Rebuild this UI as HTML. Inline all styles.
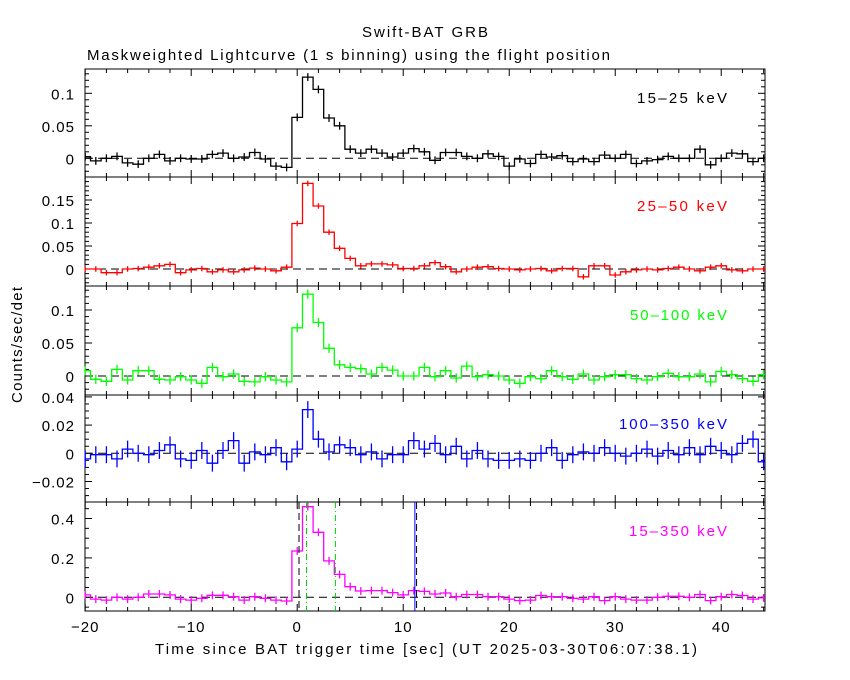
<!DOCTYPE html>
<html><head><meta charset="utf-8">
<style>
body{margin:0;background:#fff;}
svg{display:block;font-family:"Liberation Sans",sans-serif;}
text{font-size:15px;}
</style></head>
<body>
<svg id="chart" width="850" height="680" viewBox="0 0 850 680">
<text x="425" y="37" text-anchor="middle" textLength="126" lengthAdjust="spacing">Swift-BAT GRB</text>
<text x="87" y="60" textLength="523" lengthAdjust="spacing">Maskweighted Lightcurve (1 s binning) using the flight position</text>
<text transform="translate(22,345) rotate(-90)" text-anchor="middle" textLength="116" lengthAdjust="spacing">Counts/sec/det</text>
<text x="426" y="654" text-anchor="middle" textLength="542" lengthAdjust="spacing">Time since BAT trigger time [sec] (UT 2025-03-30T06:07:38.1)</text>
</svg>
<script>
const times = [];
for (let t = -20; t <= 44; t++) times.push(t);
const band1 = [0.0025,-0.004,0,0.003,-0.007,-0.009,0,0.006,-0.004,0,-0.001,-0.001,0.006,0.008,0,0.002,0.009,-0.001,-0.012,-0.014,
 0.063,0.125,0.106,0.062,0.05,0.014,0.008,0.014,0.008,0.002,0.008,0.015,0.01,-0.003,0.009,0.009,0.003,0,0.007,0.003,-0.012,-0.001,-0.008,0.006,0.002,0.004,-0.005,-0.001,-0.005,0.005,0,0.006,-0.008,-0.004,-0.002,0.003,0,0,0.014,-0.01,0,0.008,0.007,-0.005,0];
const band2 = [0,0,-0.008,-0.008,0,0.001,0.004,0.007,0.01,-0.008,-0.002,0.001,-0.006,-0.002,-0.006,-0.002,0.002,0,-0.004,0.004,
 0.099,0.186,0.137,0.08,0.045,0.023,0.007,0.011,0.011,0.009,0.001,0.001,0.007,0.014,0.005,-0.006,0,0.004,0.005,0.001,0,-0.002,0,0.001,-0.004,0.001,0.001,-0.017,0.007,0.007,-0.013,-0.006,-0.002,0,-0.002,0.001,0.004,0,-0.004,0.004,0.007,-0.002,-0.004,0,0];
const band3 = [0.008,-0.005,-0.008,0.01,-0.006,0.008,0.008,-0.005,-0.006,-0.001,-0.006,-0.011,0.013,-0.001,0.003,-0.008,-0.009,-0.001,-0.006,-0.009,
 0.073,0.124,0.081,0.042,0.017,0.013,0.011,0.003,0.013,0.009,0,0,0.013,-0.001,0.008,-0.003,0.015,-0.001,0.002,0,-0.006,-0.011,-0.001,-0.004,0.008,-0.001,-0.005,0.003,-0.006,-0.001,0.002,0.002,-0.004,-0.006,-0.001,0.004,-0.001,-0.001,0.003,-0.009,0.007,0.002,-0.004,-0.008,0.002];
const band4 = [-0.004,-0.001,-0.001,-0.004,0.003,0,-0.001,0.002,0.006,-0.004,-0.005,0.002,-0.007,0.002,0.009,-0.007,0.001,-0.001,0.004,-0.006,
 0.003,0.031,0.01,0.001,0.006,0.004,-0.001,0.001,-0.004,-0.001,-0.001,0.009,0.003,0.007,-0.001,0.005,-0.004,0.002,-0.004,-0.005,-0.005,-0.004,-0.005,0,0.004,-0.005,-0.001,0.001,0,0.004,0,-0.002,0,0.003,-0.002,0.002,-0.001,0.004,-0.001,0.005,0.002,-0.001,0.007,0.01,-0.006];
const band5 = [0.012,-0.009,-0.014,0,-0.009,0,0.017,0.017,0.012,-0.009,-0.014,-0.005,0.01,0.01,0.003,-0.014,0.003,-0.005,-0.014,-0.019,
 0.235,0.46,0.33,0.185,0.116,0.054,0.032,0.034,0.034,0.024,0.012,0.034,0.03,0.017,0.022,0.003,0.014,0.014,0.003,0.003,-0.009,-0.017,-0.014,0.009,0.003,0.003,-0.005,-0.009,0.003,-0.017,0.003,-0.009,-0.014,-0.014,0,0.005,0.005,0,0.014,-0.017,0.003,0.014,0.009,-0.009,-0.003];
const yTicks1 = [0, 0.05, 0.1];
const yTicks2 = [0, 0.05, 0.1, 0.15];
const yTicks3 = [0, 0.05, 0.1];
const yTicks4 = [-0.02, 0, 0.02, 0.04];
const yTicks5 = [0, 0.2, 0.4];
const xTicks = [-20, -10, 0, 10, 20, 30, 40];
const bandLabels = ["15\u201325 keV","25\u201350 keV","50\u2013100 keV","100\u2013350 keV","15\u2013350 keV"];
const greenLines = [0.88, 3.6];
const blackLines = [0.17, 11.26];
const blueLines = [11.1];

const svg = document.getElementById('chart');
const NS = 'http://www.w3.org/2000/svg';
const X0 = 85, X1 = 765, TMIN = -20.02, TMAX = 44.13;
function xs(t){ return X0 + (t - TMIN) / (TMAX - TMIN) * (X1 - X0); }
function mk(tag, attrs){ const e = document.createElementNS(NS, tag); for (const k in attrs) e.setAttribute(k, attrs[k]); svg.appendChild(e); return e; }

const panels = [
 {top:69, bot:177, zero:158.3, scale:650, data:band1, ticks:yTicks1, minor:0.01, color:'#000', err:0.006, lw:90, fmt:v=>String(v)},
 {top:177, bot:286, zero:269, scale:460, data:band2, ticks:yTicks2, minor:0.01, color:'#f00', err:0.006, lw:90, fmt:v=>String(v)},
 {top:286, bot:395, zero:376, scale:660, data:band3, ticks:yTicks3, minor:0.01, color:'#0f0', err:0.007, lw:97, fmt:v=>String(v)},
 {top:395, bot:502, zero:453.3, scale:1410, data:band4, ticks:yTicks4, minor:0.005, color:'#00f', err:0.006, lw:108, fmt:v=>v<0?'\u2212'+Math.abs(v):String(v)},
 {top:502, bot:611, zero:597.3, scale:197, data:band5, ticks:yTicks5, minor:0.05, color:'#f0f', err:0.02, lw:98, fmt:v=>String(v)}
];

panels.forEach((p, i) => {
  const ys = v => p.zero - v * p.scale;
  const f = mk('rect', {x:X0, y:p.top, width:X1-X0, height:p.bot-p.top, fill:'none', stroke:'#000', 'stroke-width':1});
  
  
  for (let t = -20; t <= 44; t += 2) {
    const major = t % 10 === 0, L = major ? 7 : 4, x = xs(t);
    mk('line', {x1:x, y1:p.top, x2:x, y2:p.top+L, stroke:'#000'});
    mk('line', {x1:x, y1:p.bot, x2:x, y2:p.bot-L, stroke:'#000'});
  }
  const lo = (p.bot - p.zero) / p.scale * -1, hi = (p.zero - p.top) / p.scale;
  for (let k = Math.ceil(lo / p.minor); k * p.minor <= hi; k++) {
    const y = ys(k * p.minor);
    const isMajor = p.ticks.some(tv => Math.abs(tv - k*p.minor) < 1e-9);
    const L = isMajor ? 7 : 4;
    mk('line', {x1:X0, y1:y, x2:X0+L, y2:y, stroke:'#000'});
    mk('line', {x1:X1, y1:y, x2:X1-L, y2:y, stroke:'#000'});
  }
  p.ticks.forEach(v => {
    const tx = mk('text', {x:X0-10, y:ys(v)+6, 'text-anchor':'end', style:'letter-spacing:1px'});
    tx.textContent = p.fmt(v);
    
    
  });
  const z = mk('line', {x1:X0, y1:ys(0), x2:X1, y2:ys(0), stroke:'#000', 'stroke-dasharray':'8,5'});
  
  
  let d = '';
  times.forEach((t, j) => {
    const xa = Math.max(X0, xs(t - 0.5)), xb = Math.min(X1, xs(t + 0.5)), y = ys(p.data[j]);
    d += (j === 0 ? 'M' : 'L') + xa.toFixed(1) + ',' + y.toFixed(1) + 'L' + xb.toFixed(1) + ',' + y.toFixed(1);
  });
  const path = mk('path', {d:d, fill:'none', stroke:p.color, 'stroke-width':1.3});
  
  
  times.forEach((t, j) => {
    const x = xs(t);
    const eb = mk('line', {x1:x, y1:ys(p.data[j]+p.err), x2:x, y2:ys(p.data[j]-p.err), stroke:p.color, 'stroke-width':1.3});
    
    
  });
  const lab = mk('text', {x:727, y:p.top+34, 'text-anchor':'end', fill:p.color, textLength:p.lw, lengthAdjust:'spacing'});
  lab.textContent = bandLabels[i];
  
  
  if (i === 4) {
    blackLines.forEach(t => { const l = mk('line', {x1:xs(t), y1:p.top, x2:xs(t), y2:p.bot, stroke:'#000', 'stroke-dasharray':'7,4'});   });
    greenLines.forEach(t => { const l = mk('line', {x1:xs(t), y1:p.top, x2:xs(t), y2:p.bot, stroke:'#0c0', 'stroke-dasharray':'6,3,1,3'});   });
    blueLines.forEach(t => { const l = mk('line', {x1:xs(t), y1:p.top, x2:xs(t), y2:p.bot, stroke:'#00f'});   });
    xTicks.forEach(t => {
      const tx = mk('text', {x:xs(t), y:632, 'text-anchor':'middle', style:'letter-spacing:1px'});
      tx.textContent = t < 0 ? '\u2212' + Math.abs(t) : String(t);
      
      
    });
  }
});
</script>
</body></html>
